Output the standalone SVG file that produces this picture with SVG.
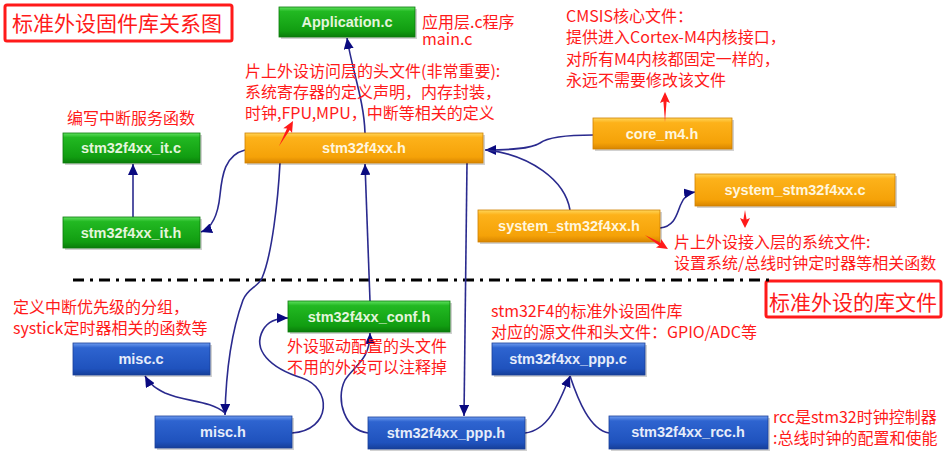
<svg xmlns="http://www.w3.org/2000/svg" width="945" height="454" viewBox="0 0 945 454">
<style>
.ann{font-family:"Noto Sans CJK SC","Liberation Sans",sans-serif;font-size:16px;fill:#ff1a1a}
.ttl{font-family:"Noto Sans CJK SC","Liberation Sans",sans-serif;font-size:21px;fill:#ff1a1a}
.nt{font-family:"Liberation Sans",Arial,sans-serif;font-size:14.5px;font-weight:bold;text-anchor:middle}
.g .nt{fill:#e4f5dc}.o .nt{fill:#fff6de}.b .nt{fill:#e6ecfa}
.shadow{fill:#000;opacity:0.18}
.g rect.box{fill:url(#gG);stroke:#0c7a0c;stroke-width:0.8}
.o rect.box{fill:url(#gO);stroke:#d08000;stroke-width:0.8}
.b rect.box{fill:url(#gB);stroke:#1a3f99;stroke-width:0.8}
.con path{fill:none;stroke:#2a2a8e;stroke-width:1.6}
.red{fill:#ff1a1a}
</style>
<defs>
<linearGradient id="gG" x1="0" y1="0" x2="0" y2="1">
<stop offset="0" stop-color="#5fe05f"/><stop offset="0.15" stop-color="#22b922"/><stop offset="0.8" stop-color="#119d11"/><stop offset="1" stop-color="#0a7d0a"/>
</linearGradient>
<linearGradient id="gO" x1="0" y1="0" x2="0" y2="1">
<stop offset="0" stop-color="#ffd65a"/><stop offset="0.15" stop-color="#fdb21a"/><stop offset="0.8" stop-color="#f5a208"/><stop offset="1" stop-color="#d98600"/>
</linearGradient>
<linearGradient id="gB" x1="0" y1="0" x2="0" y2="1">
<stop offset="0" stop-color="#6f9cf0"/><stop offset="0.15" stop-color="#2e64d0"/><stop offset="0.8" stop-color="#1f52bd"/><stop offset="1" stop-color="#163f9a"/>
</linearGradient>
<marker id="ah" markerUnits="userSpaceOnUse" markerWidth="12" markerHeight="10" refX="11" refY="5" orient="auto">
<path d="M0,0 L11,5 L0,10 Z" fill="#0a0a80"/>
</marker>
</defs>
<rect width="945" height="454" fill="#ffffff"/>

<!-- titles -->
<g id="title1">
<rect x="5" y="5" width="227" height="36" fill="none" stroke="#ff1a1a" stroke-width="3" rx="2"/>
<text class="ttl" x="12" y="31">标准外设固件库关系图</text>
</g>
<g id="title2">
<rect x="766" y="281" width="175" height="36" fill="none" stroke="#ff1a1a" stroke-width="3" rx="2"/>
<text class="ttl" x="769" y="310">标准外设的库文件</text>
</g>

<!-- divider -->
<line x1="73" y1="280" x2="771" y2="280" stroke="#000" stroke-width="3" stroke-dasharray="11,6,3,6"/>

<!-- connectors -->
<g id="connectors" class="con">
<path d="M365,133 C364,100 352,70 347,38" marker-end="url(#ah)"/>
<path d="M245,150 C225,155 222,175 220,195 C218,215 212,228 201,232" marker-end="url(#ah)"/>
<path d="M133,217 L133,164" marker-end="url(#ah)"/>
<path d="M280,163 C278,200 272,255 262,278 C258,287 248,288 243,300 C232,330 226,370 225,415" marker-end="url(#ah)"/>
<path d="M370,301 L365,164" marker-end="url(#ah)"/>
<path d="M467,163 L464,416" marker-end="url(#ah)"/>
<path d="M593,135 C565,135 548,137 540,143 C530,149 510,150 485,150" marker-end="url(#ah)"/>
<path d="M570,210 C565,180 530,155 487,150"/>
<path d="M660,228 C676,226 677,212 681,204 C684,197 688,193 695,192" marker-end="url(#ah)"/>
<path d="M225,413 C210,400 185,402 165,393 C157,389 150,385 145,376" marker-end="url(#ah)"/>
<path d="M292,433 C332,430 332,388 302,378 C270,368 252,350 263,330 C268,321 276,318 288,318" marker-end="url(#ah)"/>
<path d="M368,433 C345,430 335,400 345,380 C355,365 370,360 370,333" marker-end="url(#ah)"/>
<path d="M525,433 C550,430 560,400 570,376" marker-end="url(#ah)"/>
<path d="M609,433 C590,430 578,400 570,376"/>
</g>

<!-- nodes -->
<g id="n-application" class="g"><rect class="shadow" x="281" y="9" width="136" height="30"/><rect class="box" x="279" y="7" width="136" height="30"/><text class="nt" x="347" y="27">Application.c</text></g>
<g id="n-stm32f4xx-h" class="o"><rect class="shadow" x="247" y="135" width="238" height="30"/><rect class="box" x="245" y="133" width="238" height="30"/><text class="nt" x="364" y="153">stm32f4xx.h</text></g>
<g id="n-it-c" class="g"><rect class="shadow" x="65" y="135" width="137" height="30"/><rect class="box" x="63" y="133" width="137" height="30"/><text class="nt" x="131" y="153">stm32f4xx_it.c</text></g>
<g id="n-it-h" class="g"><rect class="shadow" x="65" y="219" width="137" height="31"/><rect class="box" x="63" y="217" width="137" height="31"/><text class="nt" x="131" y="238">stm32f4xx_it.h</text></g>
<g id="n-core-m4" class="o"><rect class="shadow" x="595" y="120" width="139" height="31"/><rect class="box" x="593" y="118" width="139" height="31"/><text class="nt" x="662" y="139">core_m4.h</text></g>
<g id="n-system-c" class="o"><rect class="shadow" x="697" y="176" width="200" height="32"/><rect class="box" x="695" y="174" width="200" height="32"/><text class="nt" x="795" y="195">system_stm32f4xx.c</text></g>
<g id="n-system-h" class="o"><rect class="shadow" x="480" y="212" width="182" height="32"/><rect class="box" x="478" y="210" width="182" height="32"/><text class="nt" x="569" y="231">system_stm32f4xx.h</text></g>
<g id="n-conf-h" class="g"><rect class="shadow" x="290" y="303" width="162" height="31"/><rect class="box" x="288" y="301" width="162" height="31"/><text class="nt" x="369" y="322">stm32f4xx_conf.h</text></g>
<g id="n-misc-c" class="b"><rect class="shadow" x="75" y="345" width="137" height="32"/><rect class="box" x="73" y="343" width="137" height="32"/><text class="nt" x="141" y="364">misc.c</text></g>
<g id="n-misc-h" class="b"><rect class="shadow" x="157" y="418" width="137" height="32"/><rect class="box" x="155" y="416" width="137" height="32"/><text class="nt" x="223" y="437">misc.h</text></g>
<g id="n-ppp-h" class="b"><rect class="shadow" x="370" y="419" width="157" height="32"/><rect class="box" x="368" y="417" width="157" height="32"/><text class="nt" x="446" y="438">stm32f4xx_ppp.h</text></g>
<g id="n-ppp-c" class="b"><rect class="shadow" x="494" y="345" width="153" height="32"/><rect class="box" x="492" y="343" width="153" height="32"/><text class="nt" x="568" y="364">stm32f4xx_ppp.c</text></g>
<g id="n-rcc-h" class="b"><rect class="shadow" x="611" y="418" width="159" height="33"/><rect class="box" x="609" y="416" width="159" height="33"/><text class="nt" x="688" y="437">stm32f4xx_rcc.h</text></g>

<!-- annotations -->
<g id="annotations">
<text class="ann" x="422" y="28">应用层.c程序</text>
<text class="ann" x="422" y="45">main.c</text>
<text class="ann" x="245" y="77">片上外设访问层的头文件(非常重要):</text>
<text class="ann" x="245" y="98">系统寄存器的定义声明，内存封装，</text>
<text class="ann" x="245" y="119">时钟,FPU,MPU，中断等相关的定义</text>
<text class="ann" x="67" y="124">编写中断服务函数</text>
<text class="ann" x="566" y="22">CMSIS核心文件：</text>
<text class="ann" x="566" y="43">提供进入Cortex-M4内核接口，</text>
<text class="ann" x="566" y="65">对所有M4内核都固定一样的，</text>
<text class="ann" x="566" y="86">永远不需要修改该文件</text>
<text class="ann" x="674" y="248">片上外设接入层的系统文件:</text>
<text class="ann" x="674" y="269">设置系统/总线时钟定时器等相关函数</text>
<text class="ann" x="13" y="313">定义中断优先级的分组，</text>
<text class="ann" x="13" y="334">systick定时器相关的函数等</text>
<text class="ann" x="287" y="352">外设驱动配置的头文件</text>
<text class="ann" x="287" y="373">不用的外设可以注释掉</text>
<text class="ann" x="491" y="317">stm32F4的标准外设固件库</text>
<text class="ann" x="491" y="338">对应的源文件和头文件：GPIO/ADC等</text>
<text class="ann" x="773" y="423">rcc是stm32时钟控制器</text>
<text class="ann" x="773" y="444">:总线时钟的配置和使能</text>
</g>

<!-- red arrows -->
<g id="red-arrows" class="red">
<path transform="translate(293,121) rotate(29)" d="M0,0 L5,11 L1.6,9.5 L0,29 L-1.6,9.5 L-5,11 Z"/>
<path transform="translate(665,92)" d="M0,0 L5,11 L1.6,9.5 L0,30 L-1.6,9.5 L-5,11 Z"/>
<path transform="translate(745,228) rotate(180)" d="M0,0 L5,10 L1.6,8.5 L0,18 L-1.6,8.5 L-5,10 Z"/>
<path transform="translate(668,249) rotate(121)" d="M0,0 L5,11 L1.6,9.5 L0,27 L-1.6,9.5 L-5,11 Z"/>
</g>
</svg>
